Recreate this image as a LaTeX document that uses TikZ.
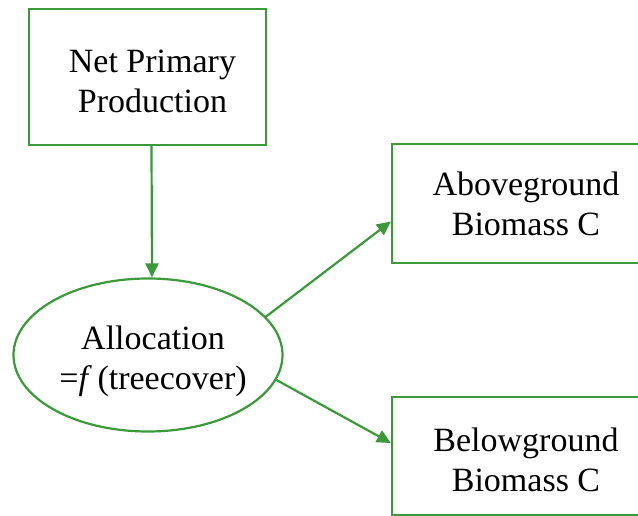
\documentclass[tikz,border=0pt]{standalone}
\usepackage{fontspec}
\setmainfont{Liberation Serif}
\usepackage{xcolor}
\usepackage{tikz}
\usetikzlibrary{arrows.meta,positioning,shapes.geometric}

\definecolor{leafgreen}{RGB}{58,154,58}

\begin{document}
\begin{tikzpicture}[
  x=1pt,y=-1pt,
  every node/.style={font=\fontsize{34}{40}\selectfont,align=center},
  pool/.style={draw=leafgreen,line width=2.2pt,inner sep=0pt},
  alloc/.style={ellipse,draw=leafgreen,line width=2.2pt,inner ysep=0pt,inner xsep=-8pt,
    minimum width=269pt,minimum height=153pt},
  arrow/.style={-{Triangle[length=14pt,width=13pt]},line width=2.2pt,leafgreen}
]
\useasboundingbox (0,0) rectangle (638,516);
\clip (0,0) rectangle (638,516);
\node[pool,minimum width=237pt,minimum height=136pt] (npp) at (147.5,77) {\rule{0pt}{31pt}\hspace*{10pt}Net Primary\\\hspace*{10pt}Production};
\node[alloc] (a) at (148,355) {\rule{0pt}{37pt}\hspace*{10pt}Allocation\\\hspace*{10pt}=\textit{f}\,(treecover)};
\node[pool,minimum width=268pt,minimum height=119pt] (ag) at (526,203.5) {Aboveground\\Biomass C};
\node[pool,minimum width=268pt,minimum height=118pt] (bg) at (526,456) {\rule{0pt}{31pt}Belowground\\Biomass C};
\draw[arrow] ([xshift=4pt]npp.south) -- ([xshift=4pt]a.north);
\draw[arrow] (a.18) -- ([yshift=-18pt]ag.west);
\draw[arrow] (a.-11) -- ([yshift=13pt]bg.west);
\end{tikzpicture}
\end{document}
